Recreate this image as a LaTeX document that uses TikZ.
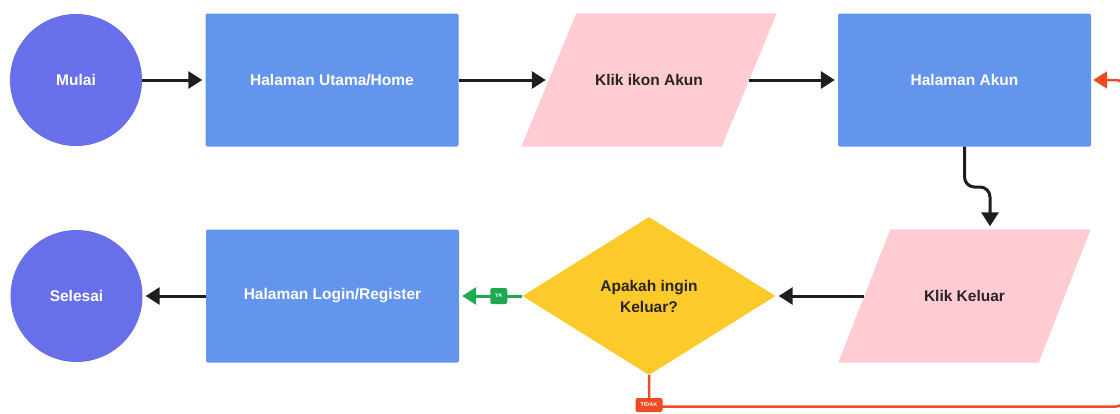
\documentclass[tikz,border=0pt]{standalone}
\usepackage{fontspec}
\setmainfont{Liberation Sans}
\usetikzlibrary{arrows.meta,shapes.geometric,backgrounds}

\definecolor{termfill}{HTML}{6770E8}
\definecolor{procfill}{HTML}{6495ED}
\definecolor{iofill}{HTML}{FFCCD3}
\definecolor{decfill}{HTML}{FDCA2B}
\definecolor{ink}{HTML}{1E1E1E}
\definecolor{textdark}{HTML}{2A2326}
\definecolor{yesgreen}{HTML}{1FA852}
\definecolor{nored}{HTML}{EE4A23}

\tikzset{
  label font/.style={font=\bfseries\fontsize{15.5}{21}\selectfont},
  terminal/.style={circle, fill=termfill, minimum size=132pt, inner sep=0pt,
    text=white, label font},
  process/.style={rectangle, rounded corners=2pt, fill=procfill,
    minimum width=253pt, minimum height=133pt, inner sep=0pt, text=white, label font},
  iobox/.style={rectangle, minimum width=200pt, minimum height=133pt,
    inner sep=0pt, text=textdark, label font},
  decision/.style={diamond, fill=decfill, minimum width=253pt, minimum height=158pt,
    inner sep=0pt, text=textdark, align=center, label font},
  tip/.style={-{Triangle[length=14pt,width=17pt]}},
  flow/.style={draw=ink, line width=3pt, tip, shorten >=3pt},
  yesflow/.style={draw=yesgreen, line width=3pt, tip, shorten >=3pt},
  noflow/.style={draw=nored, line width=2.5pt, tip, shorten >=2pt, rounded corners=9pt},
  tag/.style={rectangle, rounded corners=2pt, inner sep=0pt, text=white,
    font=\bfseries\fontsize{5.5}{6}\selectfont},
}

\begin{document}
\begin{tikzpicture}[x=1pt,y=-1pt]
\useasboundingbox (0,0) rectangle (1120,413);
\clip (0,0) rectangle (1120,413);

% top row
\node[terminal] (mulai) at (76,80) {Mulai};
\node[process] (home) at (332,80) {Halaman Utama/Home};
\node[iobox] (klik) at (649,80) {Klik ikon Akun};
\node[process] (akun) at (964.5,80) {Halaman Akun};

% bottom row
\node[terminal] (selesai) at (76.5,296) {Selesai};
\node[process] (login) at (332.5,296) {Halaman Login/Register};
\node[decision] (tanya) at (649,296) {Apakah ingin\\Keluar?};
\node[iobox] (keluar) at (964.5,296) {Klik Keluar};

% slanted input/output shapes behind their labels
\begin{scope}[on background layer]
  \fill[iofill] ([xshift=27.5pt]klik.north west) -- ([xshift=27.5pt]klik.north east)
    -- ([xshift=-27.5pt]klik.south east) -- ([xshift=-27.5pt]klik.south west) -- cycle;
  \fill[iofill] ([xshift=26pt]keluar.north west) -- ([xshift=26pt]keluar.north east)
    -- ([xshift=-26pt]keluar.south east) -- ([xshift=-26pt]keluar.south west) -- cycle;
\end{scope}

% connectors
\draw[flow] (mulai) -- (home);
\draw[flow] (home) -- (klik);
\draw[flow] (klik) -- (akun);
\draw[flow, rounded corners=10pt] (akun.south) -- (964.5,187) -- (990,187)
  -- (990,0 |- keluar.north);
\draw[flow] (keluar.west) -- (tanya.east);
\draw[yesflow] (tanya.west) -- node[tag, fill=yesgreen, minimum width=17pt,
  minimum height=16pt, pos=0.373] (ya) {YA} (login.east);
\draw[flow] (login) -- (selesai);
\draw[noflow] (tanya.south) -- (649,406.5)
  node[tag, fill=nored, minimum width=27pt, minimum height=14pt, yshift=1.5pt] (tidak) {TIDAK}
  -- (1125,406.5) -- (1125,80) -- (akun.east);
\end{tikzpicture}
\end{document}
